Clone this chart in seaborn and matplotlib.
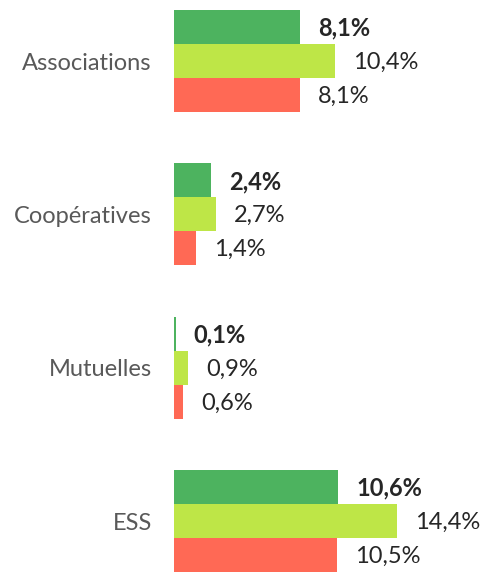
import pandas as pd
import matplotlib.pyplot as plt
import seaborn as sns

categories = ['Associations', 'Coopératives', 'Mutuelles', 'ESS']
series = ['Série 1', 'Série 2', 'Série 3']
serie1 = [8.1, 2.4, 0.1, 10.6]
serie2 = [10.4, 2.7, 0.9, 14.4]
serie3 = [8.1, 1.4, 0.6, 10.5]
colors = ['#4DB35F', '#BEE647', '#FF6955']

rows = []
for s, vals in zip(series, [serie1, serie2, serie3]):
    for c, v in zip(categories, vals):
        rows.append({'categorie': c, 'serie': s, 'valeur': v})
df = pd.DataFrame(rows)

sns.set_theme(style='white')
plt.rcParams['font.family'] = ['Lato', 'DejaVu Sans']

fig = plt.figure(figsize=(4.85, 5.73), dpi=100)
ax = fig.add_axes([174 / 485, 0, 1 - 174 / 485, 1])
sns.barplot(data=df, x='valeur', y='categorie', hue='serie', orient='h',
            palette=colors, width=0.667, gap=0, legend=False, ax=ax,
            saturation=1, linewidth=0)

ax.set_xlim(0, 20.06)
ax.set_ylim(3.339, -0.398)
sns.despine(ax=ax, left=True, bottom=True)
ax.set_xticks([])
ax.set_xlabel('')
ax.set_ylabel('')
ax.tick_params(axis='y', length=0, pad=16, labelsize=17, labelcolor='#595959')

for i, cont in enumerate(ax.containers):
    for bar, v in zip(cont, [serie1, serie2, serie3][i]):
        y = bar.get_y() + bar.get_height() / 2
        ax.annotate(f'{v:.1f}%'.replace('.', ','), (bar.get_width(), y),
                    xytext=(13, -1), textcoords='offset points',
                    va='center', ha='left', fontsize=17, color='#262626',
                    fontweight='bold' if i == 0 else 'normal')

fig.savefig('out.png', dpi=100)
